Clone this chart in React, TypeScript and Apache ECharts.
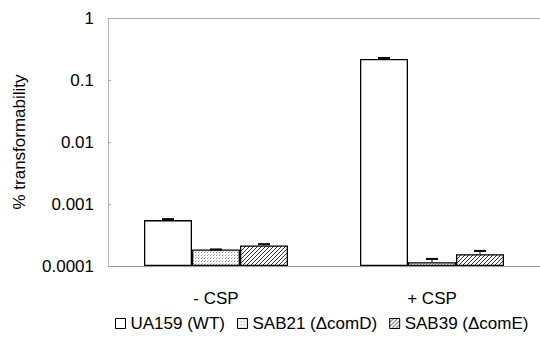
import React, { useEffect, useRef } from "react";
import * as echarts from "echarts";

const categories = ["- CSP", "+ CSP"];
const seriesNames = ["UA159 (WT)", "SAB21 (\u0394comD)", "SAB39 (\u0394comE)"];
const ua159 = [0.00055, 0.218];
const sab21 = [0.000185, 0.000115];
const sab39 = [0.000215, 0.000155];
const ua159Upper = [0.00057, 0.226];
const sab21Upper = [0.000185, 0.00013];
const sab39Upper = [0.000225, 0.000175];
const yTicks = ["0.0001", "0.001", "0.01", "0.1", "1"];
const logMin = 0.0001;

const toLog = (v: number) => Math.log10(v / logMin);

function makeDots(): HTMLCanvasElement {
  const c = document.createElement("canvas");
  c.width = 3; c.height = 3;
  const g = c.getContext("2d")!;
  g.fillStyle = "#ffffff"; g.fillRect(0, 0, 3, 3);
  g.fillStyle = "#8a8a8a";
  g.fillRect(0, 0, 1, 1);
  g.fillStyle = "#c8c8c8";
  g.fillRect(1, 2, 1, 1);
  return c;
}
function makeHatch(): HTMLCanvasElement {
  const s = 4;
  const c = document.createElement("canvas");
  c.width = s; c.height = s;
  const g = c.getContext("2d")!;
  g.fillStyle = "#ffffff"; g.fillRect(0, 0, s, s);
  g.fillStyle = "#333333";
  for (let i = 0; i < s; i++) {
    g.fillRect(s - 1 - i, i, 1, 1);
  }
  return c;
}

export default function App() {
  const ref = useRef<HTMLDivElement>(null);
  useEffect(() => {
    const chart = echarts.init(ref.current!, null, { renderer: "svg" });
    const dots = makeDots();
    const hatch = makeHatch();
    const fills: any[] = [
      "#ffffff",
      { image: dots, repeat: "repeat" },
      { image: hatch, repeat: "repeat" },
    ];
    const values = [ua159, sab21, sab39];
    const uppers = [ua159Upper, sab21Upper, sab39Upper];
    const barW = 48;
    const errData: any[] = [];
    values.forEach((vals, s) => {
      vals.forEach((v, c) => errData.push([c, s, toLog(v), toLog(uppers[s][c])]));
    });
    const font = "Liberation Sans, Arial, sans-serif";
    chart.setOption({
      animation: false,
      textStyle: { fontFamily: font },
      grid: { left: 108, right: 0, top: 18, bottom: 92 },
      legend: {
        data: seriesNames.map((n, i) => ({ name: n, itemStyle: { color: fills[i], borderColor: "#000", borderWidth: 1 } })),
        left: 110,
        top: 310,
        width: 900,
        icon: "rect",
        itemWidth: 10,
        itemHeight: 10,
        itemGap: 12,
        textStyle: { fontSize: 17, color: "#000", fontFamily: font },
      },
      xAxis: {
        type: "category",
        data: categories,
        axisLine: { lineStyle: { color: "#999", width: 1 } },
        axisTick: { show: false },
        axisLabel: { fontSize: 17, color: "#000", margin: 24, fontFamily: font },
      },
      yAxis: {
        type: "value",
        min: 0,
        max: 4,
        interval: 1,
        name: "% transformability",
        nameLocation: "middle",
        nameGap: 80,
        nameTextStyle: { fontSize: 17, color: "#000", fontFamily: font },
        axisLine: { show: true, lineStyle: { color: "#aaa", type: "dotted", width: 1 } },
        axisTick: { show: true, length: 3, inside: true, lineStyle: { color: "#aaa" } },
        axisLabel: {
          fontSize: 17,
          color: "#000",
          margin: 14,
          fontFamily: font,
          formatter: (v: number) => yTicks[Math.round(v)] ?? "",
        },
        splitLine: {
          show: true,
          lineStyle: { color: ["transparent", "transparent", "transparent", "transparent", "#a8a8a8"], width: 1 },
        },
      },
      series: [
        ...values.map((vals, i) => ({
          type: "bar",
          name: seriesNames[i],
          data: vals.map(toLog),
          barWidth: barW,
          barGap: "0%",
          itemStyle: { color: fills[i], borderColor: "#000", borderWidth: 1.3 },
        })),
        {
          type: "custom",
          name: "err",
          data: errData,
          z: 10,
          renderItem: (params: any, api: any) => {
            const c = api.value(0);
            const s = api.value(1);
            const v = api.value(2);
            const u = api.value(3);
            const p0 = api.coord([c, v]);
            const p1 = api.coord([c, u]);
            const x = p0[0] + (s - 1) * barW;
            const cap = 6;
            return {
              type: "group",
              children: [
                { type: "line", shape: { x1: x, y1: p0[1], x2: x, y2: p1[1] }, style: { stroke: "#000", lineWidth: 1 } },
                { type: "line", shape: { x1: x - cap, y1: p1[1], x2: x + cap, y2: p1[1] }, style: { stroke: "#000", lineWidth: 2 } },
              ],
            };
          },
        },
      ],
    });
    return () => chart.dispose();
  }, []);
  return <div ref={ref} style={{ width: 540, height: 358, position: "absolute", left: 0, top: 0 }} />;
}
